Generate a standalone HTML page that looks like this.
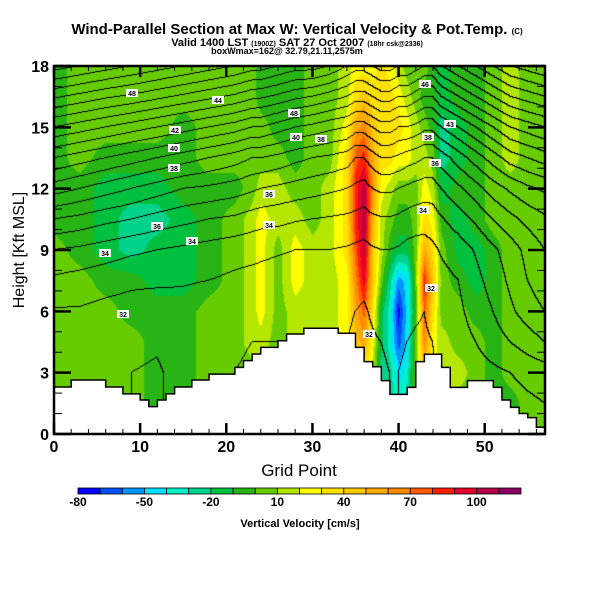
<!DOCTYPE html>
<html><head><meta charset="utf-8">
<style>
html,body{margin:0;padding:0;background:#fff;}
#wrap{position:relative;width:600px;height:600px;overflow:hidden;font-family:"Liberation Sans",sans-serif;}
canvas{position:absolute;left:0;top:0;}
svg{position:absolute;left:0;top:0;}
.lbl{font-family:"Liberation Sans",sans-serif;font-size:7px;font-weight:bold;}
</style></head>
<body>
<div id="wrap">
<canvas id="cv" width="600" height="600"></canvas>
<svg id="sv" width="600" height="600">
  <text x="297" y="34" text-anchor="middle" font-size="15" font-weight="bold">Wind-Parallel Section at Max W: Vertical Velocity &amp; Pot.Temp. <tspan font-size="8">(C)</tspan></text>
  <text x="297" y="46" text-anchor="middle" font-size="11" font-weight="bold">Valid 1400 LST <tspan font-size="7">(1900Z)</tspan> SAT 27 Oct 2007 <tspan font-size="7">(18hr csk@2336)</tspan></text>
  <text x="287" y="54" text-anchor="middle" font-size="9" font-weight="bold">boxWmax=162@ 32.79,21.11,2575m</text>
  <g id="terrain"></g>
  <g id="ticks"></g>
  <rect x="54" y="66" width="491" height="368" fill="none" stroke="#000" stroke-width="2.5"/>
  <g id="xlabels" font-size="16" font-weight="bold" text-anchor="middle"></g>
  <g id="ylabels" font-size="16" font-weight="bold" text-anchor="end"></g>
  <text x="299" y="476" text-anchor="middle" font-size="17">Grid Point</text>
  <text transform="translate(24,250) rotate(-90)" text-anchor="middle" font-size="16">Height [Kft MSL]</text>
  <g id="labels"></g>
  <g id="cbar"></g>
  <g id="cbarlabels" font-size="12" font-weight="bold" text-anchor="middle"></g>
  <text x="300" y="527" text-anchor="middle" font-size="11" font-weight="bold">Vertical Velocity [cm/s]</text>
</svg>
</div>
<script>
// ---- data ----
const gridX = [0,3,6,9,12,15,18,21,23,24,26,28,30,32,34,35,36,37,38,39,40,41,42,43,44,45,47,49,51,53,55,57];
const gridZ = [0,1.5,3,4.5,6,7.5,9,10.5,12,13.5,15,16.5,18];
// vertical velocity (cm/s), rows listed top (z=18) to bottom (z=0)
const wRows = [
[-5,5,5,5,5,5,5,5,5,-5,-5,-5,5,5,15,25,25,25,35,25,15,5,5,5,-5,-15,-5,-5,5,15,5,5],
[-5,5,5,5,5,5,5,5,5,-5,-5,-5,5,5,15,35,45,35,35,35,25,15,5,-5,-5,-15,-5,-5,5,15,5,5],
[-5,5,5,5,5,-5,5,5,5,5,-5,-5,5,5,25,55,65,45,35,35,35,25,15,5,-5,-25,-15,-5,5,15,5,5],
[-5,5,-5,-5,-5,-5,5,5,5,5,5,-5,5,5,35,75,85,55,35,35,25,25,15,15,5,-25,-15,-5,5,15,5,5],
[-5,-5,-15,-15,-15,-5,-5,-5,5,15,15,5,5,15,35,85,105,65,25,15,5,5,5,25,15,-15,-5,-5,5,5,5,5],
[-5,-5,-15,-25,-25,-15,-5,5,15,25,15,15,5,15,35,85,105,55,15,5,-5,-5,5,35,25,-5,-15,-5,5,5,5,5],
[5,-5,-15,-25,-15,-15,-5,5,15,25,5,25,15,15,35,75,105,45,15,-5,-15,-15,5,55,35,5,-15,-15,-5,5,5,5],
[5,5,-5,-5,-15,-15,-5,5,15,25,5,25,15,15,25,65,95,45,5,-25,-55,-45,5,85,45,5,-5,-15,-5,5,5,5],
[5,5,5,-5,-5,-5,5,5,15,25,5,15,15,15,25,55,75,35,-15,-35,-75,-45,-5,75,35,5,5,-5,-5,5,5,5],
[5,5,5,5,-5,-5,5,5,15,15,5,15,15,15,25,45,55,25,-15,-35,-65,-45,5,65,25,15,5,5,-5,5,5,5],
[5,5,5,5,-5,-5,5,5,5,15,5,5,5,5,5,25,35,15,-25,-25,-45,-35,5,45,25,15,15,5,-5,5,5,5],
[5,5,5,5,-5,-5,5,5,5,5,5,5,5,5,5,15,25,5,-15,-25,-35,-25,5,35,15,15,5,5,-5,-5,5,5],
[5,5,5,5,-5,-5,5,5,5,5,5,5,5,5,5,15,25,5,-15,-25,-35,-25,5,35,15,15,5,5,-5,-5,5,5]
];
// potential temperature (C), rows top to bottom
const thRows = [
[51.5,51,50.5,50,49.5,49,48.5,48,47.5,47.5,47,46.5,46.5,46,45,44.5,44.5,45,45.5,45.5,45,45,44.5,44,44,45,46,47,48,49,49.5,50],
[48.2,47.7,47.2,46.8,46.3,45.8,45.3,44.8,44.3,44.2,43.8,43.3,43,42.5,42,41.5,41.5,42,42.5,42.5,42,42,41.5,41,41,42,43,44,45,46,46.5,47],
[45,44.5,44,43.5,43,42.5,42,41.5,41,41,40.5,40,39.7,39.3,39,38.5,38.5,39,39.5,39.5,39,39,38.7,38.3,38.3,39,40,41,42,43,43.5,44],
[42,41.5,41,40.5,40,39.5,39,38.5,38,38,37.7,37.3,37,36.8,36.5,36,36,36.5,37,37,36.8,36.5,36.3,36,36,36.5,37.5,38.5,39.5,40.5,41,41.5],
[39.5,39,38.5,38,37.5,37,36.8,36.5,36.2,36,35.8,35.6,35.4,35.2,35,34.8,34.6,35,35.2,35.2,35,34.8,34.6,34.5,34.5,35,35.8,36.6,37.5,38.2,38.8,39.2],
[37,36.7,36.3,36,35.6,35.3,35,34.8,34.5,34.4,34.3,34.1,34,33.9,33.8,33.7,33.6,33.8,33.9,33.9,33.8,33.6,33.5,33.4,33.5,33.9,34.5,35.2,36,36.7,37.3,37.8],
[35,34.8,34.5,34.2,34,33.8,33.6,33.4,33.3,33.2,33.1,33,33,33,32.9,32.8,32.7,32.9,33,33,32.9,32.7,32.6,32.6,32.8,33.1,33.5,34.1,34.8,35.5,36.3,37],
[33.8,33.6,33.4,33.2,33.2,33.1,33,32.8,32.7,32.7,32.6,32.6,32.5,32.5,32.4,32.3,32.2,32.4,32.6,32.6,32.5,32.4,32.3,32.2,32.4,32.7,33,33.7,34.4,35.2,36,36.6],
[32.9,32.9,32.7,32.6,32.4,32.6,32.4,32.3,32.3,32.2,32.2,32.3,32.2,32.2,32.1,32,31.9,32.1,32.3,32.3,32.3,32.2,32.1,32,32.2,32.5,32.8,33.4,34,34.8,35.5,36],
[32.6,32.3,32.3,32.2,32.1,32.4,32.2,32.1,32,32,32,32.1,32,32,32,31.9,31.8,31.9,32,32.1,32.1,32,31.9,31.9,32,32.3,32.6,33,33.5,34,34.5,35],
[32.4,32.2,32.2,32,31.9,32.3,32.1,32,31.9,31.9,31.9,32,32,32,31.9,31.8,31.7,31.8,31.9,32,32,31.9,31.8,31.8,31.9,32.2,32.4,32.6,32.8,33,33.3,33.5],
[32.4,32.2,32.2,32,31.9,32.3,32.1,32,31.9,31.9,31.9,32,32,32,31.9,31.8,31.7,31.8,31.9,32,32,31.9,31.8,31.8,31.9,32.2,32.3,32.4,32.5,32.6,32.8,33],
[32.4,32.2,32.2,32,31.9,32.3,32.1,32,31.9,31.9,31.9,32,32,32,31.9,31.8,31.7,31.8,31.9,32,32,31.9,31.8,31.8,31.9,32.2,32.3,32.4,32.5,32.6,32.8,33]
];
// terrain height (kft) for each grid interval i..i+1
const terrain = [2.3,2.3,2.64,2.64,2.64,2.64,2.3,2.3,1.96,1.96,1.66,1.34,1.66,1.96,2.3,2.3,2.64,2.64,2.93,2.93,2.93,3.26,3.59,3.91,4.24,4.24,4.56,4.89,4.89,5.17,5.17,5.17,5.17,4.93,4.93,4.24,3.54,3.29,2.61,1.94,1.94,2.28,3.54,3.9,3.9,3.26,2.28,2.28,2.61,2.61,2.61,2.28,1.66,1.3,1.0,0.8,0.33];
const xTicks = [0,10,20,30,40,50];
const yTicks = [0,3,6,9,12,15,18];
const cbarLabels = [-80,-50,-20,10,40,70,100];
const cbarColors = ["#0000ff","#0050ff","#0096ff","#00e1ff","#00f0c8","#00d28c","#00c040","#28b414","#66cc00","#b4e600","#ffff00","#ffe100","#ffc800","#ffaa00","#ff8c00","#ff5a00","#ff1e00","#e6002d","#b40046","#8c0064"];
const contourLabels = [["48",132,93],["44",218,100],["48",294,113],["42",175,130],["40",174,148],["40",296,137],["38",174,168],["38",321,139],["36",269,194],["36",157,226],["34",192,241],["34",105,253],["34",269,225],["32",123,314],["46",425,84],["43",450,124],["38",428,137],["36",435,163],["34",423,210],["32",431,288],["32",369,334]];

// ---- axes ----
const X0=54,X1=545,Y0=434,Y1=66,XMAX=57,ZMAX=18;
const sx = x => X0 + (X1-X0)*x/XMAX;
const sz = z => Y0 - (Y0-Y1)*z/ZMAX;
const NS="http://www.w3.org/2000/svg";
function mk(tag, parent){const e=document.createElementNS(NS,tag);parent.appendChild(e);return e;}

const wField = wRows.slice().reverse();
const thField = thRows.slice().reverse();
function seg(arr,v){let i=0;while(i<arr.length-2 && v>arr[i+1]) i++;return [i,(v-arr[i])/(arr[i+1]-arr[i])];}
function interp(F,x,z){
  const [i,tx]=seg(gridX,x),[j,tz]=seg(gridZ,z);
  const a=F[j][i],b=F[j][i+1],c=F[j+1][i],d=F[j+1][i+1];
  return (a*(1-tx)+b*tx)*(1-tz)+(c*(1-tx)+d*tx)*tz;
}
function hexRGB(h){return [parseInt(h.substr(1,2),16),parseInt(h.substr(3,2),16),parseInt(h.substr(5,2),16)];}
const rgb = cbarColors.map(hexRGB);

// ---- field + contours ----
const cv=document.getElementById('cv');const ctx=cv.getContext('2d');
const W=X1-X0,H=Y0-Y1;
const img=ctx.createImageData(W,H);
const th=new Float32Array(W*H);
for(let py=0;py<H;py++){
  const z=(Y0-(Y1+py+0.5))/(Y0-Y1)*ZMAX;
  for(let px=0;px<W;px++){
    const x=(px+0.5)/W*XMAX;
    const v=interp(wField,x,z);
    let k=Math.floor((v+80)/10);k=Math.max(0,Math.min(19,k));
    const o=(py*W+px)*4;const c=rgb[k];
    img.data[o]=c[0];img.data[o+1]=c[1];img.data[o+2]=c[2];img.data[o+3]=255;
    th[py*W+px]=interp(thField,x,z);
  }
}
for(let py=0;py<H-1;py++){
  for(let px=0;px<W-1;px++){
    const a=Math.floor(th[py*W+px]),b=Math.floor(th[py*W+px+1]),c=Math.floor(th[(py+1)*W+px]);
    if(a!==b||a!==c){const o=(py*W+px)*4;img.data[o]=0;img.data[o+1]=0;img.data[o+2]=0;}
  }
}
ctx.putImageData(img,X0,Y1);

// ---- terrain ----
const tg=document.getElementById('terrain');
let d="M"+sx(0)+","+sz(0);
terrain.forEach((h,i)=>{d+=" L"+sx(i)+","+sz(h)+" L"+sx(i+1)+","+sz(h);});
d+=" L"+sx(XMAX)+","+sz(0)+" Z";
const tp=mk('path',tg);tp.setAttribute('d',d);tp.setAttribute('fill','#fff');tp.setAttribute('stroke','#000');tp.setAttribute('stroke-width','1.5');



// ---- ticks ----
const tk=document.getElementById('ticks');
function line(x1,y1,x2,y2,w){const l=mk('line',tk);l.setAttribute('x1',x1);l.setAttribute('y1',y1);l.setAttribute('x2',x2);l.setAttribute('y2',y2);l.setAttribute('stroke','#000');l.setAttribute('stroke-width',w);return l;}
for(let x=0;x<=XMAX;x+=2){const big=x%10===0;const L=big?11:5;
  line(sx(x),Y0,sx(x),Y0-L,big?2.5:1);line(sx(x),Y1,sx(x),Y1+L,big?2.5:1);}
for(let z=0;z<=ZMAX;z++){const big=z%3===0;const L=big?17:8;
  line(X0,sz(z),X0+L,sz(z),big?2.5:1);line(X1,sz(z),X1-L,sz(z),big?2.5:1);}
const xl=document.getElementById('xlabels');
xTicks.forEach(v=>{const t=mk('text',xl);t.setAttribute('x',sx(v));t.setAttribute('y',452);t.textContent=v;
  
  });
const yl=document.getElementById('ylabels');
yTicks.forEach(v=>{const t=mk('text',yl);t.setAttribute('x',49);t.setAttribute('y',sz(v)+6);t.textContent=v;
  
  });

// ---- contour labels ----
const lg=document.getElementById('labels');
contourLabels.forEach(([s,x,y])=>{
  const r=mk('rect',lg);r.setAttribute('x',x-6);r.setAttribute('y',y-4);r.setAttribute('width',12);r.setAttribute('height',8);r.setAttribute('fill','#fff');
  const t=mk('text',lg);t.setAttribute('x',x);t.setAttribute('y',y+3);t.setAttribute('text-anchor','middle');t.setAttribute('class','lbl');t.textContent=s;
  
  
});

// ---- colorbar ----
const cb=document.getElementById('cbar');
const CB0=78,CB1=521,CBY=488,CBH=6,segW=(CB1-CB0)/cbarColors.length;
const cval = v => CB0 + (v+80)/10*segW;
cbarColors.forEach((c,i)=>{const r=mk('rect',cb);r.setAttribute('x',CB0+i*segW);r.setAttribute('y',CBY);r.setAttribute('width',segW);r.setAttribute('height',CBH);r.setAttribute('fill',c);r.setAttribute('stroke','#000');r.setAttribute('stroke-width','0.8');
  
  });
const cl=document.getElementById('cbarlabels');
cbarLabels.forEach(v=>{const t=mk('text',cl);t.setAttribute('x',cval(v));t.setAttribute('y',506);t.textContent=v;
  
  });
</script>
</body></html>
